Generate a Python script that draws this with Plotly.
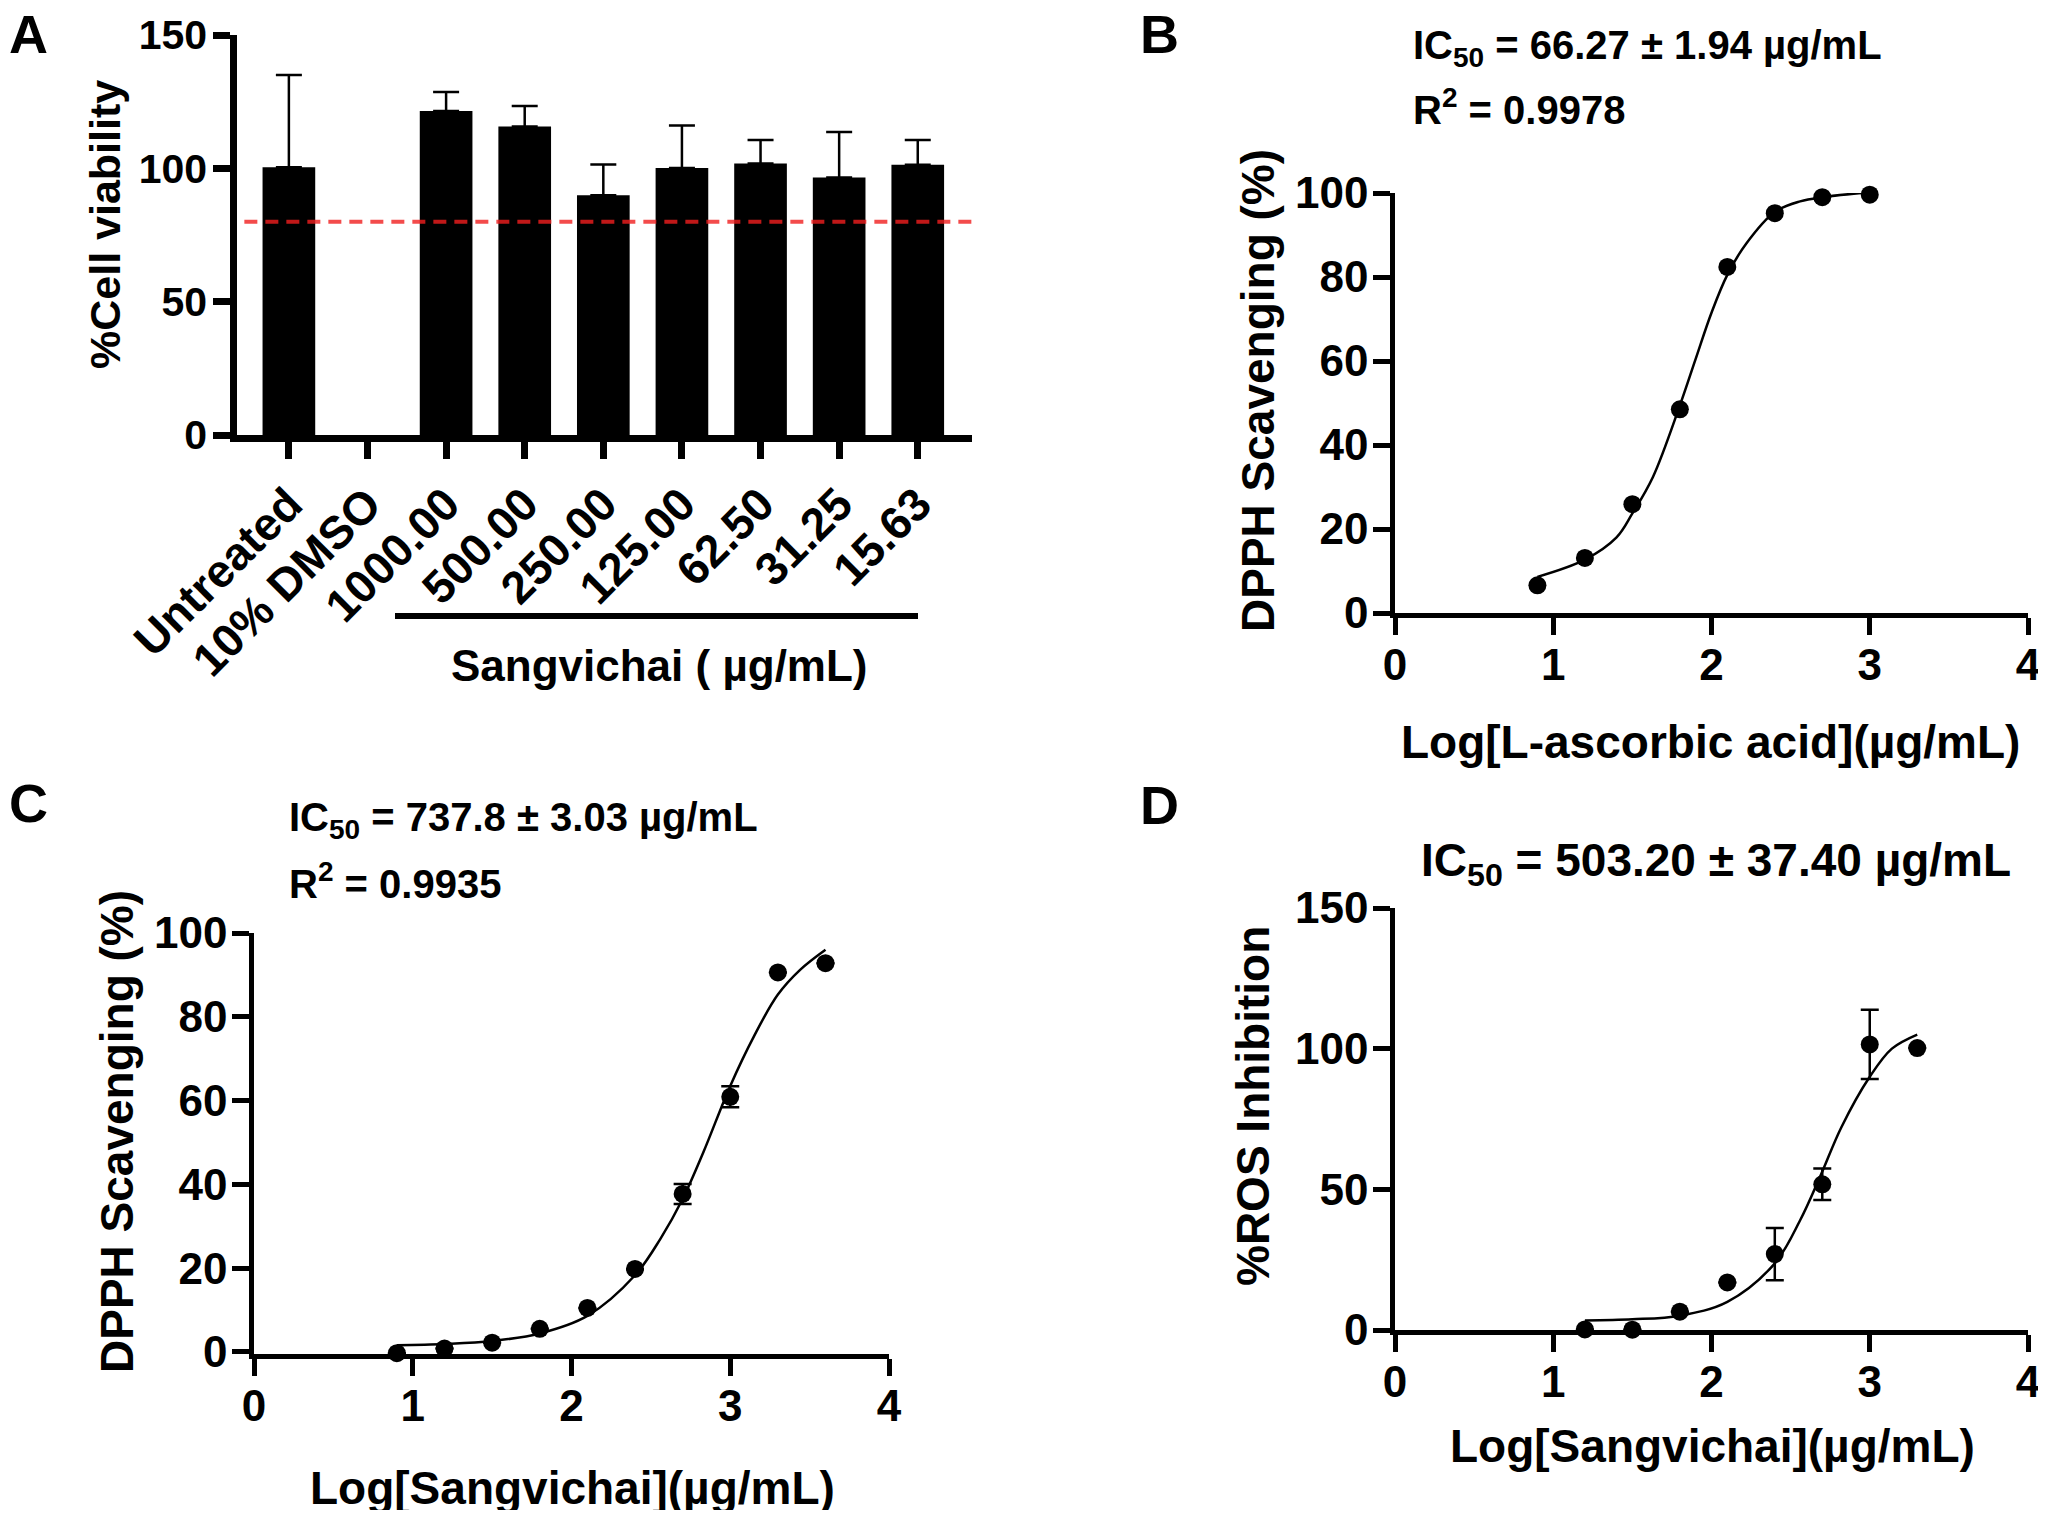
import plotly.graph_objects as go

# reference canvas; the page body adds an 8px margin round the plot div
W, H = 2046, 1518
OFF = 8
FW, FH = W - 2 * OFF, H - 2 * OFF
FONT = "Liberation Sans, Arial, sans-serif"

# ---- panel A: cell viability ----
a_labels = ['Untreated', '10% DMSO', '1000.00', '500.00', '250.00',
            '125.00', '62.50', '31.25', '15.63']
a_values = [100.4, None, 121.5, 115.7, 89.9, 100.1, 101.8, 96.6, 101.3]
a_err = [34.6, None, 7.1, 7.7, 11.5, 16.0, 8.8, 17.0, 9.3]
a_cutoff = 80

# ---- panel B: DPPH, L-ascorbic acid ----
b_x = [0.9, 1.2, 1.5, 1.8, 2.1, 2.4, 2.7, 3.0]
b_y = [6.6, 13.1, 25.9, 48.5, 82.4, 95.2, 99.0, 99.6]
b_fit_x = [0.9, 1.2, 1.4, 1.5, 1.63, 1.8, 1.9, 2.0, 2.1, 2.22, 2.4, 2.56, 2.7, 3.0]
b_fit_y = [8.6, 12.7, 18, 23.7, 32.4, 49.4, 60.5, 71.5, 80.5, 88, 95.5, 98, 99, 100.2]

# ---- panel C: DPPH, Sangvichai ----
c_x = [0.9, 1.2, 1.5, 1.8, 2.1, 2.4, 2.7, 3.0, 3.3, 3.6]
c_y = [-0.3, 0.8, 2.2, 5.5, 10.5, 19.8, 37.7, 60.9, 90.6, 92.8]
c_err = [None, None, None, None, None, None, 2.4, 2.5, None, None]
c_fit_x = [0.9, 1.2, 1.5, 1.8, 2.1, 2.4, 2.56, 2.7, 2.83, 3.0, 3.15, 3.3, 3.44, 3.6]
c_fit_y = [1.6, 1.9, 2.6, 4.4, 8.6, 18.3, 27, 36.5, 47.6, 63.5, 75.4, 85.3, 91.2, 96]

# ---- panel D: ROS inhibition ----
d_x = [1.2, 1.5, 1.8, 2.1, 2.4, 2.7, 3.0, 3.3]
d_y = [0.2, 0.1, 6.5, 16.9, 27.0, 51.8, 101.5, 100.2]
d_err = [None, None, None, None, 9.3, 5.6, 12.3, None]
d_fit_x = [1.2, 1.5, 1.8, 2.1, 2.4, 2.56, 2.69, 2.82, 3.0, 3.14, 3.3]
d_fit_y = [3.4, 3.8, 5.1, 10, 23.7, 39, 55, 72, 90, 100, 105]


def px(x, y):
    return (x - OFF) / FW, 1 - (y - OFF) / FH


def dom_x(x0, x1):
    return [(x0 - OFF) / FW, (x1 - OFF) / FW]


def dom_y(y_bottom, y_top):
    return [1 - (y_bottom - OFF) / FH, 1 - (y_top - OFF) / FH]


def axis(size, lw=4.5, **kw):
    d = dict(showline=True, linecolor='black', linewidth=lw, ticks='outside',
             ticklen=17, tickwidth=lw, tickcolor='black', showgrid=False,
             zeroline=False, automargin=False, ticklabeloverflow='allow',
             tickfont=dict(family=FONT, size=size, color='black', weight='bold'))
    d.update(kw)
    return d


fig = go.Figure()

# A
fig.add_trace(go.Bar(
    x=list(range(len(a_labels))), y=a_values, marker_color='black', marker_line_width=0,
    error_y=dict(type='data', array=a_err, arrayminus=[0] * len(a_err), symmetric=False,
                 color='black', thickness=2.5, width=13),
    xaxis='x', yaxis='y', showlegend=False))

# B
fig.add_trace(go.Scatter(x=b_fit_x, y=b_fit_y, mode='lines', line=dict(color='black', width=2.5, shape='spline'),
                         xaxis='x2', yaxis='y2', showlegend=False))
fig.add_trace(go.Scatter(x=b_x, y=b_y, mode='markers', marker=dict(color='black', size=18),
                         cliponaxis=False, xaxis='x2', yaxis='y2', showlegend=False))

# C
fig.add_trace(go.Scatter(x=c_fit_x, y=c_fit_y, mode='lines', line=dict(color='black', width=2.5, shape='spline'),
                         xaxis='x3', yaxis='y3', showlegend=False))
fig.add_trace(go.Scatter(x=c_x, y=c_y, mode='markers', marker=dict(color='black', size=18),
                         error_y=dict(type='data', array=c_err, color='black', thickness=2.5, width=9),
                         cliponaxis=False, xaxis='x3', yaxis='y3', showlegend=False))

# D
fig.add_trace(go.Scatter(x=d_fit_x, y=d_fit_y, mode='lines', line=dict(color='black', width=2.5, shape='spline'),
                         xaxis='x4', yaxis='y4', showlegend=False))
fig.add_trace(go.Scatter(x=d_x, y=d_y, mode='markers', marker=dict(color='black', size=18),
                         error_y=dict(type='data', array=d_err, color='black', thickness=2.5, width=9),
                         cliponaxis=False, xaxis='x4', yaxis='y4', showlegend=False))

fig.update_layout(
    template='none',
    width=FW, height=FH, margin=dict(l=0, r=0, t=0, b=0),
    paper_bgcolor='white', plot_bgcolor='white', bargap=0.33,
    font=dict(family=FONT, color='black'),
    xaxis=axis(46, lw=6.5, domain=dom_x(237, 972), anchor='y', range=[-0.66, 8.69],
               tickmode='array', tickvals=list(range(len(a_labels))), ticktext=a_labels,
               tickangle=-45, ticklabelstandoff=0),
    yaxis=axis(41, lw=6.5, domain=dom_y(435, 35), anchor='x', range=[0, 150],
               tickvals=[0, 50, 100, 150], ticklabelstandoff=-2),
    xaxis2=axis(44, domain=dom_x(1395, 2028), anchor='y2', range=[0, 4],
                tickvals=[0, 1, 2, 3, 4], ticklabelstandoff=-8),
    yaxis2=axis(44, domain=dom_y(613, 193), anchor='x2', range=[0, 100],
                tickvals=[0, 20, 40, 60, 80, 100], ticklabelstandoff=-4),
    xaxis3=axis(44, domain=dom_x(254, 889), anchor='y3', range=[0, 4],
                tickvals=[0, 1, 2, 3, 4], ticklabelstandoff=-8),
    yaxis3=axis(44, domain=dom_y(1354, 933), anchor='x3', range=[-0.5, 100],
                tickvals=[0, 20, 40, 60, 80, 100], ticklabelstandoff=-4),
    xaxis4=axis(44, domain=dom_x(1395, 2028), anchor='y4', range=[0, 4],
                tickvals=[0, 1, 2, 3, 4], ticklabelstandoff=-8),
    yaxis4=axis(44, domain=dom_y(1330, 908), anchor='x4', range=[0, 150],
                tickvals=[0, 50, 100, 150], ticklabelstandoff=-4),
)

# 80% cut-off line in panel A
fig.add_shape(type='line', xref='x domain', yref='y', x0=0.01, x1=1, y0=a_cutoff, y1=a_cutoff,
              line=dict(color='rgba(240,30,30,0.8)', width=4, dash='13px,8px'))

# bracket under the Sangvichai concentrations
bx0, by = px(395, 616)
bx1, _ = px(918, 616)
fig.add_shape(type='line', xref='paper', yref='paper', x0=bx0, x1=bx1, y0=by, y1=by,
              line=dict(color='black', width=6))


def text(x, y, s, size, angle=0, xanchor='center'):
    xp, yp = px(x, y)
    fig.add_annotation(x=xp, y=yp, xref='paper', yref='paper', text=s, showarrow=False,
                       textangle=angle, xanchor=xanchor, yanchor='middle',
                       font=dict(family=FONT, size=size, color='black', weight='bold'))


# panel letters
text(28, 34, 'A', 54)
text(1159, 34, 'B', 54)
text(28, 803, 'C', 54)
text(1159, 805, 'D', 54)

# axis titles
text(105, 225, '%Cell viability', 43, angle=-90)
text(659, 665, 'Sangvichai ( µg/mL)', 44)
text(1258, 391, 'DPPH Scavenging (%)', 46, angle=-90)
text(1710, 742, 'Log[L-ascorbic acid](µg/mL)', 46)
text(117, 1132, 'DPPH Scavenging (%)', 46, angle=-90)
text(572, 1488, 'Log[Sangvichai](µg/mL)', 46)
text(1253, 1106, '%ROS Inhibition', 46, angle=-90)
text(1712, 1446, 'Log[Sangvichai](µg/mL)', 46)

# fit statistics
text(1411, 48, 'IC<sub>50</sub> = 66.27 ± 1.94 µg/mL', 40, xanchor='left')
text(1411, 107, 'R<sup>2</sup> = 0.9978', 40, xanchor='left')
text(287, 820, 'IC<sub>50</sub> = 737.8 ± 3.03 µg/mL', 40, xanchor='left')
text(287, 881, 'R<sup>2</sup> = 0.9935', 40, xanchor='left')
text(1716, 864, 'IC<sub>50</sub> = 503.20 ± 37.40 µg/mL', 46)

fig.write_html("out.html")
